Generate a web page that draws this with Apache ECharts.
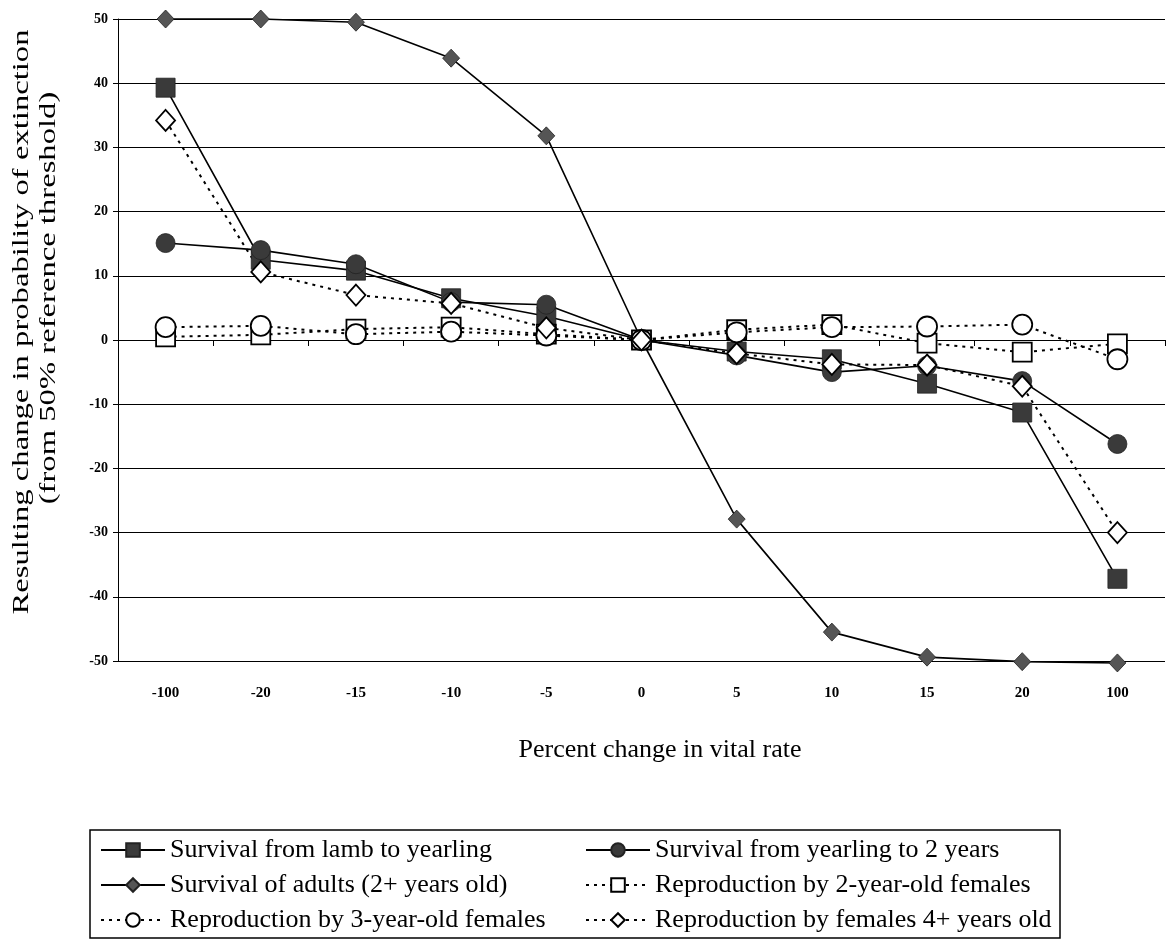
<!DOCTYPE html>
<html>
<head>
<meta charset="utf-8">
<script src="https://cdn.jsdelivr.net/npm/echarts@6/dist/echarts.min.js"></script>
<style>
html,body{margin:0;padding:0;background:#fff;}
#chart{width:1168px;height:941px;}
</style>
</head>
<body>
<div id="chart"></div>
<script>
const categories = ['-100','-20','-15','-10','-5','0','5','10','15','20','100'];
const yTicks = [-50,-40,-30,-20,-10,0,10,20,30,40,50];
const lambToYearling   = [39.3, 12.5, 10.8, 6.5, 3.7, 0, -1.8, -3.0, -6.8, -11.3, -37.2];
const yearlingTo2      = [15.1, 14.0, 11.8, 5.9, 5.5, 0, -2.4, -5.0, -4.0, -6.4, -16.2];
const adults           = [50.0, 50.0, 49.5, 43.9, 31.8, 0, -27.9, -45.5, -49.4, -50.1, -50.3];
const repro2yr         = [0.5, 0.8, 1.7, 2.0, 0.9, 0, 1.6, 2.4, -0.5, -1.9, -0.6];
const repro3yr         = [2.0, 2.2, 0.9, 1.3, 0.7, 0, 1.2, 2.0, 2.1, 2.4, -3.0];
const repro4plus       = [34.2, 10.6, 7.0, 5.7, 1.9, 0, -2.1, -3.8, -3.9, -7.2, -30.0];
const names = [
  'Survival from lamb to yearling',
  'Survival from yearling to 2 years',
  'Survival of adults (2+ years old)',
  'Reproduction by 2-year-old females',
  'Reproduction by 3-year-old females',
  'Reproduction by females 4+ years old'
];
const xTitle = 'Percent change in vital rate';
const yTitle1 = 'Resulting change in probability of extinction';
const yTitle2 = '(from 50% reference threshold)';

const FONT = '"Liberation Serif", "DejaVu Serif", serif';
const chart = echarts.init(document.getElementById('chart'), null, {renderer:'canvas'});

function solid(name, data, symbol, size, fill){
  return {name, type:'line', data, symbol, symbolSize:size, clip:false,
    lineStyle:{color:'#000', width:1.6, type:'solid'},
    itemStyle:{color:fill, borderColor:'#222', borderWidth:0.8},
    emphasis:{disabled:true}, animation:false};
}
function dotted(name, data, symbol, size){
  return {name, type:'line', data, symbol, symbolSize:size, clip:false,
    lineStyle:{color:'#000', width:2, type:[3,5]},
    itemStyle:{color:'#fff', borderColor:'#000', borderWidth:1.8},
    emphasis:{disabled:true}, animation:false};
}

const legendText = {fontFamily:FONT, fontSize:26, color:'#000', lineHeight:26};

const option = {
  backgroundColor:'#fff',
  animation:false,
  grid:{left:118, right:3, top:19, bottom:280, containLabel:false},
  xAxis:[
    {type:'category', data:categories, boundaryGap:true, position:'bottom',
     axisLine:{show:true, onZero:true, lineStyle:{color:'#000', width:1}},
     axisTick:{show:true, inside:false, length:6, alignWithLabel:false, lineStyle:{color:'#000'}},
     axisLabel:{show:false}, splitLine:{show:false}},
    {type:'category', data:categories, boundaryGap:true, position:'bottom',
     axisLine:{show:false, onZero:false}, axisTick:{show:false}, splitLine:{show:false},
     axisLabel:{show:true, margin:25, fontFamily:FONT, fontSize:15, fontWeight:'bold', color:'#000'}}
  ],
  yAxis:{type:'value', min:-50, max:50, interval:10,
    axisLine:{show:true, lineStyle:{color:'#000', width:1}},
    axisTick:{show:true, length:5, lineStyle:{color:'#000'}},
    axisLabel:{fontFamily:FONT, fontSize:14, fontWeight:'bold', color:'#000', margin:10,
      formatter:function(v){ return yTicks.indexOf(v) >= 0 ? String(v) : ''; }},
    splitLine:{show:true, lineStyle:{color:'#000', width:1.2}}},
  legend:[
    {data:[names[0], names[2], names[4]], orient:'vertical', left:100, top:837, padding:0,
     itemWidth:64, itemHeight:17, itemGap:9, textStyle:legendText, selectedMode:false},
    {data:[names[1], names[3], names[5]], orient:'vertical', left:585, top:837, padding:0,
     itemWidth:64, itemHeight:17, itemGap:9, textStyle:legendText, selectedMode:false}
  ],
  graphic:[
    {type:'rect', shape:{x:90, y:830, width:970, height:108}, silent:true,
     style:{fill:'none', stroke:'#000', lineWidth:1.5}},
    {type:'text', x:660, y:750, silent:true,
     style:{text:xTitle, font:'26px ' + FONT, fill:'#000', align:'center', verticalAlign:'middle'}},
    {type:'text', x:22, y:322, rotation:Math.PI/2, scaleX:1.42, silent:true,
     style:{text:yTitle1, font:'23px ' + FONT, fill:'#000', align:'center', verticalAlign:'middle'}},
    {type:'text', x:49, y:298, rotation:Math.PI/2, scaleX:1.42, silent:true,
     style:{text:yTitle2, font:'23px ' + FONT, fill:'#000', align:'center', verticalAlign:'middle'}}
  ],
  series:[
    solid(names[0], lambToYearling, 'rect', 19, '#3a3a3a'),
    solid(names[1], yearlingTo2, 'circle', 19, '#3a3a3a'),
    solid(names[2], adults, 'diamond', [17,18], '#555'),
    dotted(names[3], repro2yr, 'rect', 19),
    dotted(names[4], repro3yr, 'circle', 20),
    dotted(names[5], repro4plus, 'diamond', [19,21])
  ]
};
chart.setOption(option);
</script>
</body>
</html>
